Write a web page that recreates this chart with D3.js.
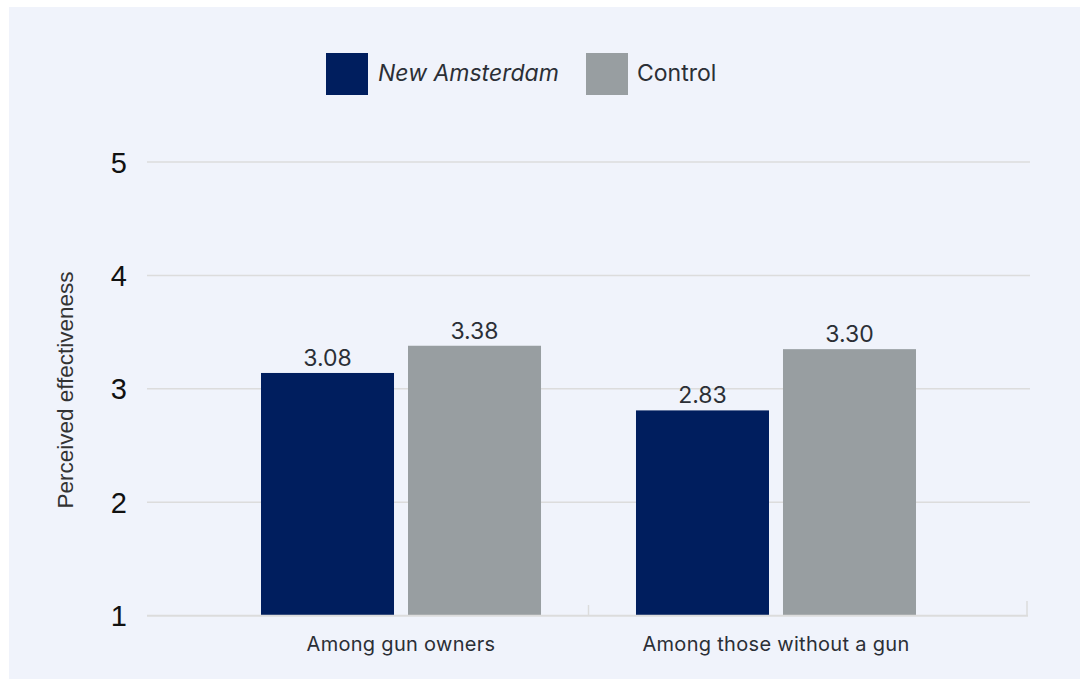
<!DOCTYPE html>
<html><head><meta charset="utf-8">
<script src="https://cdn.jsdelivr.net/npm/d3@7"></script>
<style>html,body{margin:0;padding:0;background:#fff;}svg{display:block;}</style>
</head><body><div id="chart"></div>
<script>
const categories = ["Among gun owners", "Among those without a gun"];
const seriesNames = ["New Amsterdam", "Control"];
const newAmsterdam = [3.14, 2.81];
const control = [3.38, 3.35];
const newAmsterdamLabels = ["3.08", "2.83"];
const controlLabels = ["3.38", "3.30"];
const yTicks = [1, 2, 3, 4, 5];
const colors = ["#001e5e", "#989ea1"];

const W = 1086, H = 679;
const svg = d3.select("#chart").append("svg").attr("width", W).attr("height", H);
svg.append("rect").attr("x", 9).attr("y", 7).attr("width", 1071).attr("height", H - 7).attr("fill", "#f0f3fb");

const plotL = 147, plotR = 1030;
const y = d3.scaleLinear().domain([1, 5]).range([615.7, 162]);
const x0 = d3.scaleBand().domain(categories).range([213.5, 963.5]).paddingInner(0.2533).paddingOuter(0.12667);
const x1 = d3.scaleBand().domain(seriesNames).range([0, x0.bandwidth()]).paddingInner(0.0952);

// grid
svg.append("g").selectAll("line").data(yTicks.filter(d => d > 1)).join("line")
  .attr("x1", plotL).attr("x2", plotR).attr("y1", d => y(d)).attr("y2", d => y(d))
  .attr("stroke", "#dcdcdc").attr("stroke-width", 1.5);

// y tick labels
svg.append("g").selectAll("text").data(yTicks).join("text")
  .attr("x", 127).attr("y", d => y(d) + 10.5).attr("text-anchor", "end")
  .attr("font-family", "Liberation Sans, Arial, sans-serif").attr("font-size", 29).attr("fill", "#111")
  .text(d => d);

// y title
svg.append("text").attr("transform", "translate(72.5,390) rotate(-90)").attr("text-anchor", "middle")
  .attr("font-family", "Liberation Sans, Arial, sans-serif").attr("font-size", 22.5).attr("fill", "#333")
  .text("Perceived effectiveness");

// bars
const rows = categories.map((c, i) => ({c, vals: [
  {s: seriesNames[0], v: newAmsterdam[i], l: newAmsterdamLabels[i], col: colors[0]},
  {s: seriesNames[1], v: control[i], l: controlLabels[i], col: colors[1]}]}));
const g = svg.append("g").selectAll("g").data(rows).join("g")
  .attr("transform", d => `translate(${x0(d.c)},0)`);
g.selectAll("rect").data(d => d.vals).join("rect")
  .attr("x", d => x1(d.s)).attr("width", x1.bandwidth())
  .attr("y", d => y(d.v)).attr("height", d => y(1) - y(d.v)).attr("fill", d => d.col);
g.selectAll("text").data(d => d.vals).join("text")
  .attr("x", d => x1(d.s) + x1.bandwidth() / 2).attr("y", d => y(d.v) - 7)
  .attr("text-anchor", "middle").attr("font-family", "Inter, sans-serif").attr("font-size", 23).attr("fill", "#2b2f36")
  .text(d => d.l);

// x axis line and ticks
svg.append("line").attr("x1", plotL).attr("x2", 1028).attr("y1", y(1)).attr("y2", y(1))
  .attr("stroke", "#dcdcdc").attr("stroke-width", 2);
const tickXs = [(x0(categories[0]) + x0.bandwidth() + x0(categories[1])) / 2, 1027];
svg.append("g").selectAll("line").data(tickXs).join("line")
  .attr("x1", d => d).attr("x2", d => d).attr("y1", y(1)).attr("y2", (d, i) => i ? 601 : 605)
  .attr("stroke", "#dcdcdc").attr("stroke-width", 1.5);

// x labels
svg.append("g").selectAll("text").data(categories).join("text")
  .attr("x", d => x0(d) + x0.bandwidth() / 2).attr("y", 651).attr("text-anchor", "middle")
  .attr("font-family", "Inter, sans-serif").attr("font-size", 20).attr("letter-spacing", 0.3).attr("fill", "#2b2f36")
  .text(d => d);

// legend
const legX = [326, 586];
const lg = svg.append("g").selectAll("g").data(seriesNames).join("g")
  .attr("transform", (d, i) => `translate(${legX[i]},53)`);
lg.append("rect").attr("width", 42).attr("height", 42).attr("fill", (d, i) => colors[i]);
lg.append("text").attr("x", (d, i) => i ? 51 : 52).attr("y", 28)
  .attr("font-family", "Inter, sans-serif").attr("font-size", 23).attr("fill", "#2b2f36")
  .attr("font-style", (d, i) => i ? "normal" : "italic")
  .text(d => d);
</script></body></html>
